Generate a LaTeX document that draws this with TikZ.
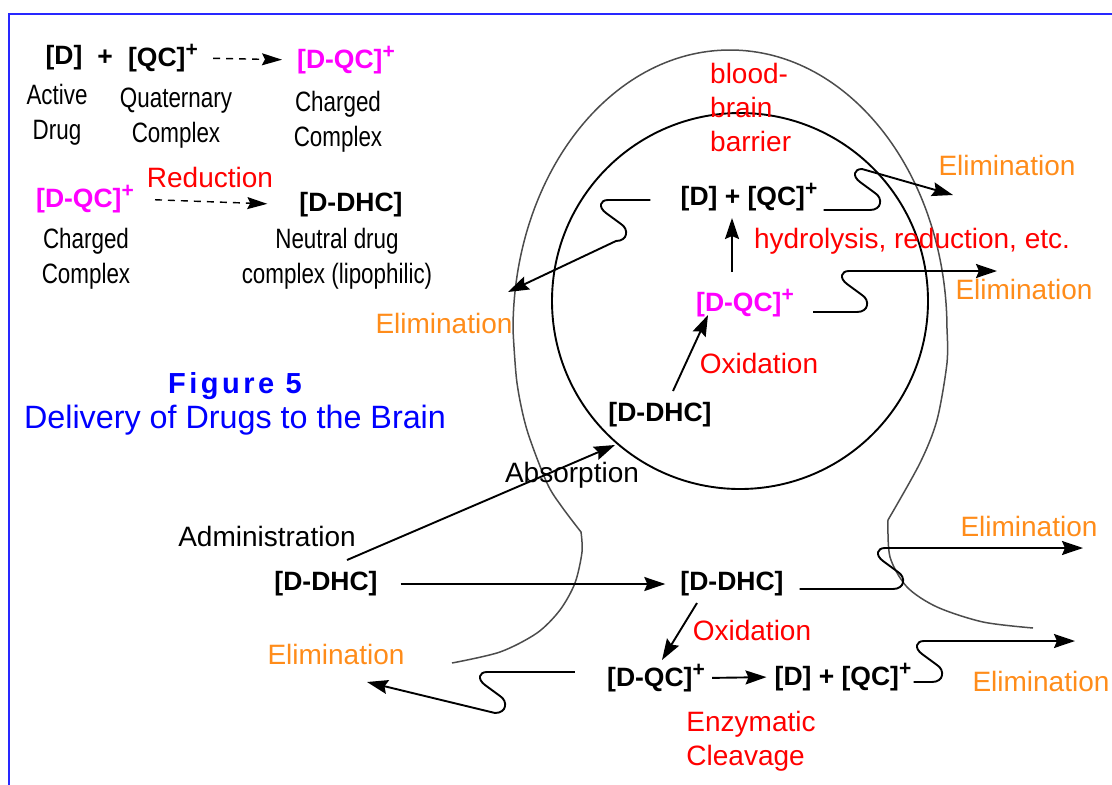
\documentclass[tikz,border=0pt]{standalone}
\usepackage{fontspec}
\setmainfont{Liberation Sans}
\newfontfamily\narrowfont[FakeStretch=0.8]{Liberation Sans}
\usetikzlibrary{arrows.meta,calc}
\definecolor{chemmag}{RGB}{255,0,255}
\definecolor{elimorange}{RGB}{255,140,26}
\definecolor{figblue}{RGB}{0,0,255}
\definecolor{frameblue}{RGB}{40,40,255}
\newcommand\chg{\raisebox{0.4em}{\fontsize{21}{21}\selectfont +}}

\begin{document}
\begin{tikzpicture}[x=1pt,y=-1pt,
  chem/.style={inner sep=0pt,font=\bfseries\fontsize{26.5}{30}\selectfont},
  chemq/.style={chem,text=chemmag},
  txt/.style={inner sep=0pt,font=\fontsize{28}{34}\selectfont},
  redtxt/.style={txt,text=red},
  elim/.style={txt,text=elimorange},
  note/.style={inner sep=0pt,align=center,font=\narrowfont\fontsize{28}{35}\selectfont},
  arr/.style={line width=1.9pt,-{Stealth[length=21pt,width=14pt,inset=3pt]}},
  dasharr/.style={line width=1.4pt,dash pattern=on 7pt off 6pt,-{Stealth[length=20pt,width=12pt,inset=3pt]}},
  wire/.style={line width=1.9pt},
  barrier/.style={line width=1.5pt,draw=black!70},
  s up/.style={insert path={.. controls +(12,0) and +(8,5) .. ++(5,-17) -- ++(-15,-11) .. controls +(-8,-6) and +(-8,0) .. ++(2,-13)}},
  s down/.style={insert path={.. controls +(-8,0) and +(-8,-6) .. ++(-2,13) -- ++(15,11) .. controls +(8,5) and +(12,0) .. ++(-5,17)}}]
\useasboundingbox (0,0) rectangle (1112,785);
\draw[frameblue,line width=2pt] (9,785) -- (9,14) -- (1112,14);
%
% legend
\node[chem] (D0) at (64,58) {[D]};
\node[chem] (plus0) at (105,58) {+};
\node[chem] (QC0) at (163,58) {[QC]\chg};
\node[chemq] (DQC0) at (346,60) {[D-QC]\chg};
\draw[dasharr,shorten <=15pt,shorten >=15pt] (QC0.east) -- (DQC0.west);
\node[note] (act) at (57,115) {Active\\Drug};
\node[note] (quat) at (176,118) {Quaternary\\Complex};
\node[note] (chg0) at (338,122) {Charged\\Complex};
\node[redtxt] (redn) at (210,177) {Reduction};
\node[chemq] (DQC1) at (85,199) {[D-QC]\chg};
\node[chem] (DHC1) at (351,205) {[D-DHC]};
\draw[dasharr,shorten <=21pt,shorten >=32pt] (DQC1.east) -- (DHC1.west);
\node[note] (chg1) at (86,259) {Charged\\Complex};
\node[note] (neut) at (337,259) {Neutral drug\\complex (lipophilic)};
%
% caption
\node[inner sep=0pt,text=figblue,font=\bfseries\fontsize{29}{34}\selectfont\addfontfeature{LetterSpace=12}] (fig) at (235,386) {Figure 5};
\node[inner sep=0pt,text=figblue,font=\fontsize{32.3}{36}\selectfont] (cap) at (235,420) {Delivery of Drugs to the Brain};
%
% blood-brain barrier and brain
\draw[barrier] plot[smooth] coordinates {(452,663) (500,652) (537,633) (560,610) (575,583) (582,552) (581,532)}
  -- plot[smooth] coordinates {(581,532) (562,507) (547,483) (527,430) (517,383) (513,330)}
  arc[start angle=180,end angle=0,x radius=217pt,y radius=280pt]
  -- plot[smooth] coordinates {(947,330) (947,363) (937,420) (920,463) (888,520)}
  -- plot[smooth] coordinates {(888,520) (890,557) (907,587) (937,607) (983,622) (1033,628)};
\draw[wire] (740,301) circle[radius=188pt];
\node[redtxt,align=left,anchor=north west] (bbb) at (710,63) {blood-\\brain\\barrier};
%
% inside the brain
\node[chem] (dIn) at (749,197) {[D] + [QC]\chg};
\node[redtxt] (hyd) at (912,241) {hydrolysis, reduction, etc.};
\node[chemq] (dqcIn) at (745,303) {[D-QC]\chg};
\node[redtxt] (oxIn) at (759,363) {Oxidation};
\node[chem] (dhcIn) at (660,415) {[D-DHC]};
%
% blood side
\node[txt] (absn) at (572,475) {Absorption};
\node[txt] (adm) at (267,536) {Administration};
\node[chem] (dhcL) at (326,584) {[D-DHC]};
\node[chem] (dhcM) at (732,584) {[D-DHC]};
\node[redtxt] (oxLow) at (752,630) {Oxidation};
\node[chem] (dqcLow) at (656,678) {[D-QC]\chg};
\node[chem] (dLow) at (843,677) {[D] + [QC]\chg};
\node[redtxt,align=left] (enz) at (751,741) {Enzymatic\\Cleavage};
%
% elimination labels
\node[elim] (el1) at (1007,165) {Elimination};
\node[elim] (el2) at (1024,289) {Elimination};
\node[elim] (el3) at (444,323) {Elimination};
\node[elim] (el4) at (1029,526) {Elimination};
\node[elim] (el5) at (1041,681) {Elimination};
\node[elim] (el6) at (336,654) {Elimination};
%
% reactions
\draw[arr,shorten <=23pt,shorten >=15pt] (dhcL.east) -- (dhcM.west);
\draw[arr] ($(dhcL)+(21,-24)$) -- ($(dhcIn)+(-45,30)$);
\draw[arr] ($(dhcIn)+(13,-24)$) -- ($(dqcIn)+(-37,12)$);
\draw[arr] ($(dqcIn)+(-13,-31)$) -- ($(dIn)+(-17,21)$);
\draw[arr] ($(dhcM)+(-35,19)$) -- ($(dqcLow)+(6,-18)$);
\draw[arr,shorten <=7pt,shorten >=8pt] (dqcLow.east) -- (dLow.west);
%
% elimination routes
\coordinate (s1) at (870,210); \coordinate (e1) at (953,195);
\coordinate (s2) at (857,312); \coordinate (e2) at (997,271);
\coordinate (s3) at (608,200); \coordinate (e3) at (508,292);
\coordinate (s4) at (893,589); \coordinate (e4) at (1083,548);
\coordinate (s5) at (932,682); \coordinate (e5) at (1075,641);
\coordinate (s6) at (487,672); \coordinate (e6) at (367,682);
\draw[arr] ($(dIn.east |- s1)+(6,0)$) -- (s1) [s up] -- (e1);
\draw[arr] ($(dqcIn.east |- s2)+(19,0)$) -- (s2) [s up] -- (e2);
\draw[arr] ($(dIn.west |- s3)+(-30,0)$) -- (s3) [s down] -- (e3);
\draw[arr] ($(dhcM.east |- s4)+(16,0)$) -- (s4) [s up] -- (e4);
\draw[arr] ($(dLow.east |- s5)+(2,0)$) -- (s5) [s up] -- (e5);
\draw[arr] ($(dqcLow.west |- s6)+(-32,0)$) -- (s6) [s down] -- (e6);
\end{tikzpicture}
\end{document}
